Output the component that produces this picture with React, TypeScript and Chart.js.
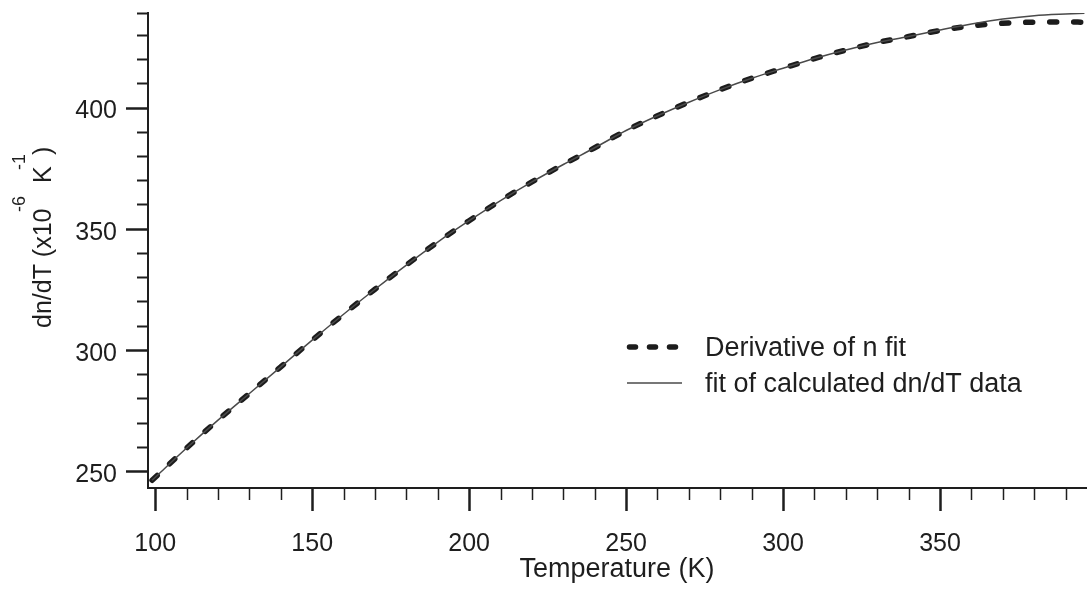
import React, { useEffect, useRef } from "react";
import { Chart, registerables } from "chart.js";

Chart.register(...registerables);

const FONT = '"Liberation Sans", Arial, Helvetica, sans-serif';

// Temperature (K)
const temperatures = [99, 110, 120, 130, 140, 150, 160, 170, 180, 190, 200, 210, 220, 230, 240, 250, 260, 270, 280, 290, 300, 310, 320, 330, 340, 350, 360, 370, 380, 390, 396];
// Derivative of n fit (dashed)
const derivativeOfNFit = [246.2, 259.5, 271, 282, 293, 304, 314.7, 325, 335, 344.5, 353.3, 361.6, 369.3, 376.5, 383.4, 390.5, 396.6, 402.2, 407.4, 412.1, 416.2, 420.2, 423.7, 426.8, 429.3, 431.8, 433.7, 434.8, 435.2, 435.3, 435.2];
// fit of calculated dn/dT data (thin solid)
const fitOfCalculated = [246.2, 259.5, 271, 282, 293, 304, 314.7, 325, 335, 344.5, 353.3, 361.6, 369.3, 376.5, 383.4, 390.5, 396.6, 402.2, 407.4, 412.1, 416.2, 420.2, 423.7, 426.8, 429.3, 432.0, 434.5, 436.5, 437.9, 438.6, 438.9];

const xTickValues = [100, 110, 120, 130, 140, 150, 160, 170, 180, 190, 200, 210, 220, 230, 240, 250, 260, 270, 280, 290, 300, 310, 320, 330, 340, 350, 360, 370, 380, 390];
const yTickValues = [250, 260, 270, 280, 290, 300, 310, 320, 330, 340, 350, 360, 370, 380, 390, 400, 410, 420, 430];
const majorStep = 50;

const X_MIN = 97.7;
const X_MAX = 396.5;
const Y_MIN = 243;
const Y_MAX = 439;

const seriesLabels = ["Derivative of n fit", "fit of calculated dn/dT data"];
const xAxisTitle = "Temperature (K)";

const INK = "#1e1e1e";

const decorPlugin = {
  id: "decor",
  afterDraw(chart: any) {
    const ctx = chart.ctx as CanvasRenderingContext2D;
    const xs = chart.scales.x;
    const ys = chart.scales.y;
    const area = chart.chartArea;
    ctx.save();
    ctx.strokeStyle = INK;
    ctx.lineCap = "butt";
    // x tick marks
    xs.ticks.forEach((t: any) => {
      const px = Math.round(xs.getPixelForValue(t.value)) + 0.5;
      const major = t.value % majorStep === 0;
      ctx.lineWidth = major ? 2.5 : 1.5;
      ctx.beginPath();
      ctx.moveTo(px, area.bottom);
      ctx.lineTo(px, area.bottom + (major ? 23 : 12));
      ctx.stroke();
    });
    // y tick marks
    const yTicks = ys.ticks.map((t: any) => t.value).concat([ys.max]);
    yTicks.forEach((v: number) => {
      const py = Math.round(ys.getPixelForValue(v)) + 0.5;
      const major = v % majorStep === 0;
      ctx.lineWidth = major ? 2.5 : 2;
      ctx.beginPath();
      ctx.moveTo(area.left, py);
      ctx.lineTo(area.left - (major ? 22 : 11), py);
      ctx.stroke();
    });

    // y axis title with superscripts
    ctx.fillStyle = INK;
    ctx.save();
    ctx.translate(51, 328);
    ctx.rotate(-Math.PI / 2);
    ctx.textAlign = "left";
    ctx.textBaseline = "alphabetic";
    ctx.font = `25px ${FONT}`;
    ctx.fillText("dn/dT (x10", 0, 0);
    ctx.font = `18px ${FONT}`;
    ctx.fillText("-6", 116, -26);
    ctx.font = `25px ${FONT}`;
    ctx.fillText("K", 145, 0);
    ctx.font = `18px ${FONT}`;
    ctx.fillText("-1", 158, -26);
    ctx.font = `25px ${FONT}`;
    ctx.fillText(")", 173, 0);
    ctx.restore();

    // legend
    const ds = chart.data.datasets;
    const dashed = ds[1];
    const solid = ds[0];
    ctx.strokeStyle = dashed.borderColor;
    ctx.lineWidth = dashed.borderWidth;
    ctx.lineCap = "round";
    ctx.setLineDash([6, 14]);
    ctx.beginPath();
    ctx.moveTo(629.5, 347);
    ctx.lineTo(680, 347);
    ctx.stroke();
    ctx.setLineDash([]);
    ctx.lineCap = "butt";
    ctx.strokeStyle = solid.borderColor;
    ctx.lineWidth = solid.borderWidth;
    ctx.beginPath();
    ctx.moveTo(627, 383);
    ctx.lineTo(682, 383);
    ctx.stroke();

    ctx.fillStyle = INK;
    ctx.font = `27px ${FONT}`;
    ctx.textAlign = "left";
    ctx.textBaseline = "alphabetic";
    ctx.fillText(dashed.label, 705, 356);
    ctx.fillText(solid.label, 705, 392);
    ctx.restore();
  },
};

export default function App() {
  const ref = useRef<HTMLCanvasElement>(null);

  useEffect(() => {
    const canvas = ref.current;
    if (!canvas) return;
    const chart = new Chart(canvas, {
      type: "line",
      data: {
        datasets: [
          {
            label: seriesLabels[1],
            data: temperatures.map((t, i) => ({ x: t, y: fitOfCalculated[i] })),
            borderColor: "#4a4a4a",
            borderWidth: 1.5,
            pointRadius: 0,
            fill: false,
            cubicInterpolationMode: "monotone",
            order: 0,
          },
          {
            label: seriesLabels[0],
            data: temperatures.map((t, i) => ({ x: t, y: derivativeOfNFit[i] })),
            borderColor: "#1c1c1c",
            borderWidth: 5.5,
            borderDash: [7, 17],
            borderCapStyle: "round",
            pointRadius: 0,
            fill: false,
            cubicInterpolationMode: "monotone",
            order: 1,
          },
        ],
      },
      options: {
        responsive: false,
        animation: false,
        devicePixelRatio: 1,
        layout: { padding: { top: 13, right: 5, left: 0, bottom: 0 } },
        plugins: { legend: { display: false }, tooltip: { enabled: false } },
        scales: {
          x: {
            type: "linear",
            min: X_MIN,
            max: X_MAX,
            grid: { display: false, drawTicks: false },
            border: { display: true, color: INK, width: 2 },
            afterBuildTicks: (s: any) => {
              s.ticks = xTickValues.map((v) => ({ value: v }));
            },
            afterFit: (s: any) => {
              s.height = 108;
              s.paddingLeft = 0;
              s.paddingRight = 0;
            },
            ticks: {
              autoSkip: false,
              maxRotation: 0,
              padding: 41,
              color: INK,
              font: { family: FONT, size: 25 },
              callback: (v: any) => (Number(v) % majorStep === 0 ? String(v) : ""),
            },
            title: {
              display: true,
              text: xAxisTitle,
              color: INK,
              font: { family: FONT, size: 27 },
              padding: { top: 0, bottom: 10 },
            },
          },
          y: {
            type: "linear",
            min: Y_MIN,
            max: Y_MAX,
            grid: { display: false, drawTicks: false },
            border: { display: true, color: INK, width: 2 },
            afterBuildTicks: (s: any) => {
              s.ticks = yTickValues.map((v) => ({ value: v }));
            },
            afterFit: (s: any) => {
              s.width = 148;
              s.paddingTop = 0;
              s.paddingBottom = 0;
            },
            ticks: {
              autoSkip: false,
              padding: 31,
              labelOffset: 4,
              color: INK,
              font: { family: FONT, size: 25 },
              callback: (v: any) => (Number(v) % majorStep === 0 ? String(v) : ""),
            },
          },
        },
      },
      plugins: [decorPlugin],
    } as any);
    return () => chart.destroy();
  }, []);

  return (
    <div style={{ position: "fixed", left: 0, top: 0, width: 1091, height: 596, background: "#fff" }}>
      <canvas ref={ref} width={1091} height={596} style={{ display: "block", width: 1091, height: 596 }} />
    </div>
  );
}
